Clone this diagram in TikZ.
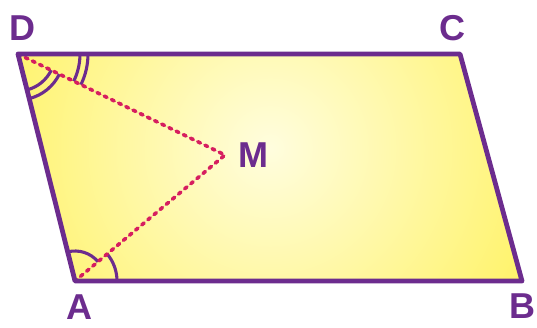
\documentclass[tikz,border=0pt]{standalone}
\usepackage{fontspec}
\setmainfont{Liberation Sans}
\usetikzlibrary{angles}
\definecolor{edgepurple}{RGB}{108,44,142}
\definecolor{dashred}{RGB}{214,30,95}
\definecolor{fillyellow}{RGB}{255,238,50}
\definecolor{paleyellow}{RGB}{255,253,222}
\tikzset{
  edge/.style={draw=edgepurple, line width=4.8pt, line join=round},
  dashline/.style={draw=dashred, line width=3.6pt, line cap=round, dash pattern=on 3pt off 5pt},
  anglemark/.style={draw=edgepurple, line width=3.1pt},
  lbl/.style={text=edgepurple, font=\fontsize{36}{40}\selectfont\bfseries, inner sep=0pt}
}
\begin{document}
\begin{tikzpicture}[x=1pt,y=1pt]
\useasboundingbox (0,0) rectangle (537,328);
\coordinate (D) at (18,274);
\coordinate (C) at (460,274);
\coordinate (B) at (522,47);
\coordinate (A) at (75,47);
\coordinate (M) at (225,173);
\fill[fillyellow] (A) -- (B) -- (C) -- (D) -- cycle;
\begin{scope}
  \clip (A) -- (B) -- (C) -- (D) -- cycle;
  \shade[inner color=paleyellow, outer color=fillyellow] (270,180) circle (420);
\end{scope}
\pic[anglemark, angle radius=37pt] {angle = A--D--M};
\pic[anglemark, angle radius=46pt] {angle = A--D--M};
\pic[anglemark, angle radius=62pt] {angle = M--D--C};
\pic[anglemark, angle radius=70pt] {angle = M--D--C};
\pic[anglemark, angle radius=30pt] {angle = M--A--D};
\pic[anglemark, angle radius=42pt] {angle = B--A--M};
\draw[dashline] (D) -- (M) -- (A);
\draw[edge] (A) -- (B) -- (C) -- (D) -- cycle;
\node[lbl] (lD) at (22,300) {D};
\node[lbl] (lC) at (452,300) {C};
\node[lbl] (lM) at (253,173) {M};
\node[lbl] (lA) at (79,21) {A};
\node[lbl] (lB) at (522,22) {B};
\end{tikzpicture}
\end{document}
